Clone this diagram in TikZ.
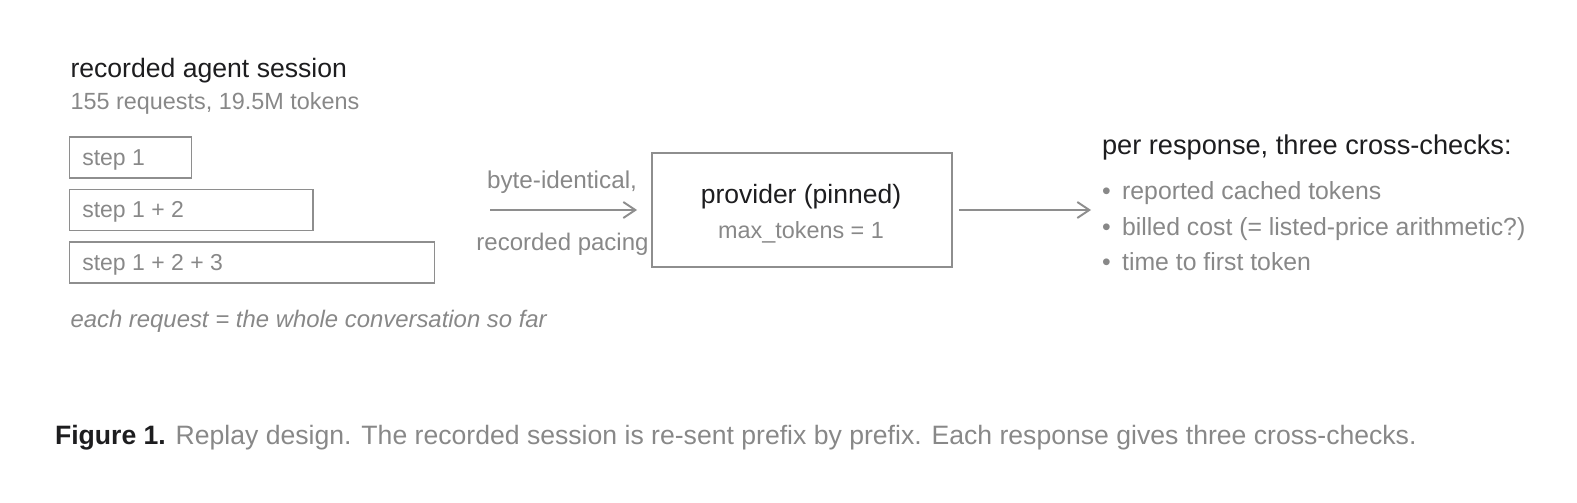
\documentclass[tikz,border=0pt]{standalone}
\usepackage{fontspec}
\setmainfont{Liberation Sans}
\usetikzlibrary{arrows.meta}
\definecolor{ink}{HTML}{1D1D1F}
\definecolor{soft}{HTML}{888888}
\definecolor{edge}{HTML}{8E8E8E}
\tikzset{
  every node/.style={inner sep=0pt, outer sep=0pt},
  head/.style={text=ink, font=\fontsize{26.6}{30}\selectfont, anchor=base west},
  sub/.style={text=soft, font=\fontsize{23.4}{27}\selectfont, anchor=base west},
  stepbox/.style={draw=edge, line width=1.9pt, anchor=north west, minimum height=41pt,
    inner xsep=12.8pt, text=soft, font=\fontsize{23}{27}\selectfont,
    text height=15pt, text depth=0pt},
  arr/.style={draw=edge, line width=1.9pt, -{Straight Barb[length=12pt,width=16pt,line width=1.9pt]}},
}
\begin{document}
\begin{tikzpicture}[x=1pt,y=-1pt]
\useasboundingbox (0,0) rectangle (1577,503);
\node[head] (title) at (70.5,77.5) {recorded agent session};
\node[sub] (stats) at (70.5,110) {155 requests, 19.5M tokens};
\node[stepbox] (s1) at (69.5,137) {\makebox[96.4pt][l]{step 1}};
\node[stepbox] (s2) at (69.5,189.5) {\makebox[217.9pt][l]{step 1 + 2}};
\node[stepbox] (s3) at (69.5,242) {\makebox[339.4pt][l]{step 1 + 2 + 3}};
\node[sub, font=\fontsize{23.9}{28}\selectfont\itshape] (note) at (70.5,327.5) {each request = the whole conversation so far};

\node[sub, anchor=base, font=\fontsize{24.3}{28}\selectfont] (l1) at (562,188.3) {byte-identical,};
\node[sub, anchor=base, font=\fontsize{24}{28}\selectfont] (l2) at (562.5,250) {recorded pacing};
\coordinate (a1s) at (490,210);
\node[draw=edge, line width=1.9pt, minimum width=300pt, minimum height=114pt] (prov) at (802,210) {};
\node[text=ink, anchor=base, font=\fontsize{26.5}{30}\selectfont] (provt) at (801,203.3) {provider (pinned)};
\node[text=soft, anchor=base, font=\fontsize{23.4}{27}\selectfont] (provs) at (801,238.3) {max\_tokens = 1};
\draw[arr, shorten >=15pt] (a1s) -- (prov.west);

\coordinate (a2e) at (1091,210);
\draw[arr, shorten <=7pt] (prov.east) -- (a2e);

\node[head, font=\fontsize{27.2}{31}\selectfont] (checks) at (1102,154.5) {per response, three cross-checks:};
\node[sub, font=\fontsize{24.8}{28}\selectfont] (b1) at (1102,199) {•\hspace{11.5pt}reported cached tokens};
\node[sub, font=\fontsize{24.8}{28}\selectfont] (b2) at (1102,235) {•\hspace{11.5pt}billed cost (= listed-price arithmetic?)};
\node[sub, font=\fontsize{24.8}{28}\selectfont] (b3) at (1102,270.5) {•\hspace{11.5pt}time to first token};

\node[sub, font=\fontsize{26.6}{30}\selectfont] (cap) at (55,444.5) {{\color{ink}\bfseries Figure 1.} Replay design. The recorded session is re-sent prefix by prefix. Each response gives three cross-checks.};
\end{tikzpicture}
\end{document}
